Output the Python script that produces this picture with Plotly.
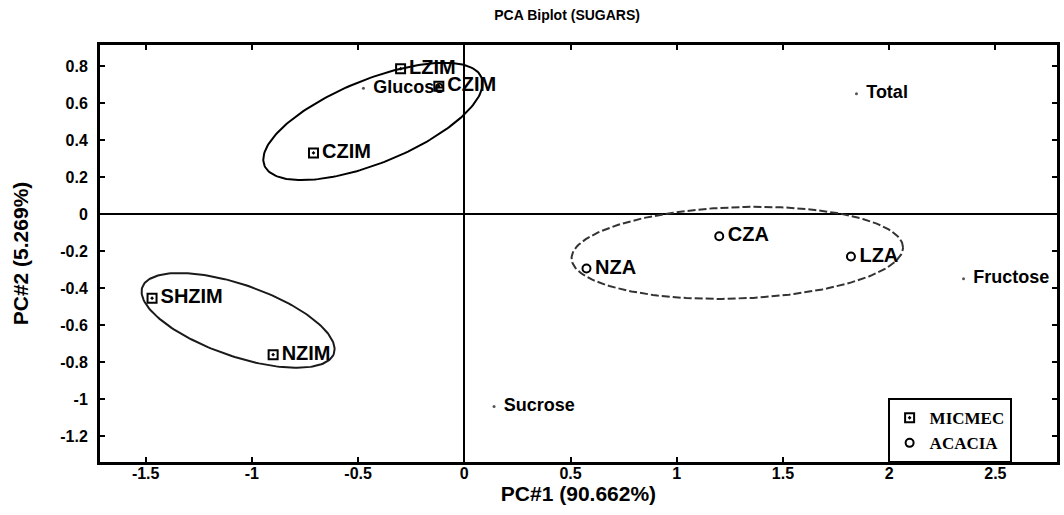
import numpy as np
import plotly.graph_objects as go

# Sample scores on the first two principal components
micmec_names = ["LZIM", "CZIM", "CZIM", "SHZIM", "NZIM"]
micmec_pc1 = [-0.30, -0.12, -0.71, -1.47, -0.90]
micmec_pc2 = [0.785, 0.69, 0.33, -0.455, -0.76]

acacia_names = ["NZA", "CZA", "LZA"]
acacia_pc1 = [0.575, 1.20, 1.82]
acacia_pc2 = [-0.295, -0.12, -0.23]

# Variable loadings (scaled)
var_names = ["Glucose", "Total", "Sucrose", "Fructose"]
var_pc1 = [-0.475, 1.846, 0.14, 2.35]
var_pc2 = [0.68, 0.65, -1.04, -0.35]

# Group ellipses: centre, major semi-axis vector, minor semi-axis vector
ell_cx = [-0.43, -1.065, 1.285]
ell_cy = [0.50, -0.575, -0.21]
ell_major = [(0.511, 0.238), (0.451, -0.179), (0.780, 0.031)]
ell_minor = [(-0.074, 0.209), (0.055, 0.183), (-0.0075, 0.247)]
ell_dash = ["solid", "solid", "8px,3px"]
ell_color = ["#000000", "#1a1a1a", "#333333"]

FONT = "Liberation Sans"

fig = go.Figure()

t = np.linspace(0, 2 * np.pi, 200)
for cx, cy, mj, mn, dsh, col in zip(ell_cx, ell_cy, ell_major, ell_minor, ell_dash, ell_color):
    ex = cx + mj[0] * np.cos(t) + mn[0] * np.sin(t)
    ey = cy + mj[1] * np.cos(t) + mn[1] * np.sin(t)
    fig.add_trace(go.Scatter(x=ex, y=ey, mode="lines",
                             line=dict(color=col, width=2, dash=dsh),
                             showlegend=False, hoverinfo="skip"))

# Group markers (these carry the legend)
fig.add_trace(go.Scatter(x=micmec_pc1, y=micmec_pc2, mode="markers", name="MICMEC",
                         marker=dict(symbol="square-open-dot", size=9, color="black",
                                     line=dict(width=2, color="black"))))
fig.add_trace(go.Scatter(x=acacia_pc1, y=acacia_pc2, mode="markers", name="ACACIA",
                         marker=dict(symbol="circle-open", size=8, color="black",
                                     line=dict(width=2, color="black"))))

# Sample labels (invisible markers push the text clear of the symbol)
fig.add_trace(go.Scatter(x=micmec_pc1 + acacia_pc1, y=micmec_pc2 + acacia_pc2, mode="markers+text",
                         text=micmec_names + acacia_names, textposition="middle right",
                         marker=dict(size=12, opacity=0),
                         textfont=dict(family=FONT, size=20, color="black", weight="bold"),
                         showlegend=False, hoverinfo="skip"))

# Loadings as small dots with labels
fig.add_trace(go.Scatter(x=var_pc1, y=var_pc2, mode="markers",
                         marker=dict(size=3, color="#555555"),
                         showlegend=False, hoverinfo="skip"))
fig.add_trace(go.Scatter(x=var_pc1, y=var_pc2, mode="markers+text",
                         text=var_names, textposition="middle right",
                         marker=dict(size=14, opacity=0),
                         textfont=dict(family=FONT, size=18, color="black", weight="bold"),
                         showlegend=False, hoverinfo="skip"))

axis_common = dict(
    showgrid=False, ticks="inside", ticklen=5, tickwidth=2, tickcolor="black",
    showline=True, linecolor="black", linewidth=3, mirror="ticks",
    zeroline=True, zerolinecolor="black", zerolinewidth=2,
    tickfont=dict(family=FONT, size=16, color="black", weight="bold"),
)

fig.update_layout(
    width=1064, height=515,
    margin=dict(l=100, r=4, t=45, b=53),
    paper_bgcolor="white", plot_bgcolor="white",
    title=dict(text="PCA Biplot (SUGARS)", x=0.533, xanchor="center", y=0.97, yanchor="middle",
               font=dict(family=FONT, size=14, color="black", weight="bold")),
    xaxis=dict(range=[-1.715, 2.79], tickvals=[-1.5, -1, -0.5, 0, 0.5, 1, 1.5, 2, 2.5],
               ticktext=["-1.5", "-1", "-0.5", "0", "0.5", "1", "1.5", "2", "2.5"],
               ticklabelstandoff=-5,
               title=dict(text="PC#1 (90.662%)", standoff=0,
                          font=dict(family=FONT, size=21, color="black", weight="bold")),
               **axis_common),
    yaxis=dict(range=[-1.34, 0.913], tickvals=[0.8, 0.6, 0.4, 0.2, 0, -0.2, -0.4, -0.6, -0.8, -1, -1.2],
               ticktext=["0.8", "0.6", "0.4", "0.2", "0", "-0.2", "-0.4", "-0.6", "-0.8", "-1", "-1.2"],
               ticklabelstandoff=6,
               title=dict(text="PC#2 (5.269%)", standoff=26,
                          font=dict(family=FONT, size=21, color="black", weight="bold")),
               **axis_common),
    legend=dict(x=0.823, y=0.153, xanchor="left", yanchor="top",
                bordercolor="black", borderwidth=2, bgcolor="white",
                font=dict(family="Liberation Serif", size=17, color="black", weight="bold"),
                itemwidth=30, tracegroupgap=0),
)

fig.write_html("out.html")
